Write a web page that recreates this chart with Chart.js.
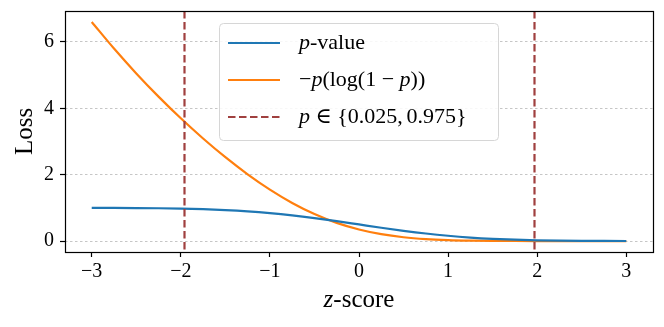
<!DOCTYPE html>
<html><head><meta charset="utf-8">
<script src="https://cdn.jsdelivr.net/npm/chart.js@4"></script>
<style>html,body{margin:0;padding:0;background:#fff}#wrap{width:664px;height:327px}</style>
</head><body><div id="wrap"><canvas id="c" width="664" height="327"></canvas></div>
<script>
const zScores = [-3,-2.75,-2.5,-2.25,-2,-1.75,-1.5,-1.25,-1,-0.75,-0.5,-0.25,0,0.25,0.5,0.75,1,1.25,1.5,1.75,2,2.25,2.5,2.75,3];
const pValue = [0.9987,0.9970,0.9938,0.9878,0.9773,0.9599,0.9332,0.8944,0.8413,0.7734,0.6915,0.5987,0.5,0.4013,0.3085,0.2266,0.1587,0.1057,0.0668,0.0401,0.0228,0.0122,0.0062,0.0030,0.0013];
const negPLog = [6.599,5.798,5.050,4.351,3.697,3.089,2.525,2.010,1.549,1.148,0.813,0.547,0.347,0.206,0.114,0.058,0.0274,0.0118,0.0046,0.0016,0.0005,0.00015,0.00004,0.00001,0.000002];
const cutoffs = [-1.96, 1.96];
const xTicks = [-3,-2,-1,0,1,2,3];
const yTicks = [0,2,4,6];
const legendLabels = ['p-value','−p(log(1 − p))','p ∈ {0.025, 0.975}'];

const FONT = '"Liberation Serif", "DejaVu Serif", serif';
const fmt = v => (v < 0 ? '−' + Math.abs(v) : String(v));

const vlinePlugin = {
  id: 'vlines',
  afterDatasetsDraw(chart) {
    const {ctx, chartArea: a, scales: {x}} = chart;
    ctx.save();
    ctx.strokeStyle = '#a0403f';
    ctx.lineWidth = 2.2;
    ctx.setLineDash([7.5, 3.5]);
    cutoffs.forEach(v => {
      const px = Math.round(x.getPixelForValue(v)) + 0.5;
      ctx.beginPath(); ctx.moveTo(px, a.top); ctx.lineTo(px, a.bottom); ctx.stroke();
    });
    ctx.restore();
  }
};

function drawMath(ctx, parts, x, y) {
  let cx = x;
  parts.forEach(([t, it]) => {
    ctx.font = (it ? 'italic ' : '') + '22px ' + FONT;
    ctx.fillText(t, cx, y);
    cx += ctx.measureText(t).width;
  });
}

const framePlugin = {
  id: 'frame',
  afterDraw(chart) {
    const {ctx, chartArea: a} = chart;
    ctx.save();
    ctx.strokeStyle = '#000';
    ctx.lineWidth = 1.2;
    ctx.setLineDash([]);
    ctx.strokeRect(a.left + 0.5, a.top + 0.5, a.right - a.left, a.bottom - a.top);
    // legend
    const lx = 219.5, ly = 23.5, lw = 279, lh = 117;
    ctx.fillStyle = 'rgba(255,255,255,0.85)';
    ctx.strokeStyle = '#d6d6d6';
    ctx.lineWidth = 1;
    ctx.beginPath();
    ctx.roundRect(lx, ly, lw, lh, 4);
    ctx.fill(); ctx.stroke();
    const rows = [43, 80, 117];
    const cols = ['#1f77b4', '#ff7f0e', '#a0403f'];
    rows.forEach((ry, i) => {
      ctx.strokeStyle = cols[i];
      ctx.lineWidth = 2.2;
      ctx.setLineDash(i === 2 ? [7.5, 3.5] : []);
      ctx.beginPath(); ctx.moveTo(228, ry); ctx.lineTo(280, ry); ctx.stroke();
    });
    ctx.setLineDash([]);
    ctx.fillStyle = '#000';
    ctx.textBaseline = 'middle';
    ctx.textAlign = 'left';
    drawMath(ctx, [['p', true], ['-value', false]], 299, 43);
    drawMath(ctx, [['−', false], ['p', true], ['(log(1\u2005−\u2005', false], ['p', true], ['))', false]], 299, 80);
    drawMath(ctx, [['p', true], ['\u2005∈\u2005{0.025,\u20060.975}', false]], 299, 117);
    // x title
    ctx.textBaseline = 'alphabetic';
    ctx.font = 'italic 25px ' + FONT;
    const zw = ctx.measureText('z').width;
    ctx.font = '25px ' + FONT;
    const sw = ctx.measureText('-score').width;
    const cxm = (a.left + a.right) / 2;
    let sx = cxm - (zw + sw) / 2;
    ctx.font = 'italic 25px ' + FONT;
    ctx.fillText('z', sx, 307);
    ctx.font = '25px ' + FONT;
    ctx.fillText('-score', sx + zw, 307);
    ctx.restore();
  }
};

new Chart(document.getElementById('c'), {
  type: 'line',
  data: {
    datasets: [
      { label: legendLabels[0], data: zScores.map((z, i) => ({x: z, y: pValue[i]})), borderColor: '#1f77b4', borderWidth: 2.2, pointRadius: 0, cubicInterpolationMode: 'monotone', fill: false },
      { label: legendLabels[1], data: zScores.map((z, i) => ({x: z, y: negPLog[i]})), borderColor: '#ff7f0e', borderWidth: 2.2, pointRadius: 0, cubicInterpolationMode: 'monotone', fill: false }
    ]
  },
  options: {
    responsive: false,
    animation: false,
    devicePixelRatio: 1,
    layout: { padding: { left: 0, right: 11, top: 11, bottom: 0 } },
    plugins: { legend: { display: false }, tooltip: { enabled: false } },
    scales: {
      x: {
        type: 'linear', min: -3.3, max: 3.3,
        afterBuildTicks: s => { s.ticks = xTicks.map(v => ({value: v})); },
        afterFit: s => { s.height = 75; s.paddingLeft = 0; s.paddingRight = 0; },
        border: { display: false },
        grid: { drawOnChartArea: false, drawTicks: true, tickLength: 5, tickColor: '#000', tickWidth: 1.2 },
        ticks: { color: '#000', font: { family: FONT, size: 20 }, padding: 3, maxRotation: 0, callback: v => fmt(v) },
        title: { display: false }
      },
      y: {
        type: 'linear', min: -0.33, max: 6.93,
        afterBuildTicks: s => { s.ticks = yTicks.map(v => ({value: v})); },
        afterFit: s => { s.width = 65; s.paddingTop = 0; s.paddingBottom = 0; },
        border: { display: false, dash: [2.5, 2.5] },
        grid: { color: '#b8b8b8', lineWidth: 0.8, drawTicks: true, tickLength: 5, tickColor: '#000', tickWidth: 1.2, tickBorderDash: [] },
        ticks: { color: '#000', font: { family: FONT, size: 20 }, padding: 6, callback: v => fmt(v) },
        title: { display: true, text: 'Loss', color: '#000', font: { family: FONT, size: 25 }, padding: { top: 10, bottom: 0 } }
      }
    }
  },
  plugins: [vlinePlugin, framePlugin]
});
</script></body></html>
